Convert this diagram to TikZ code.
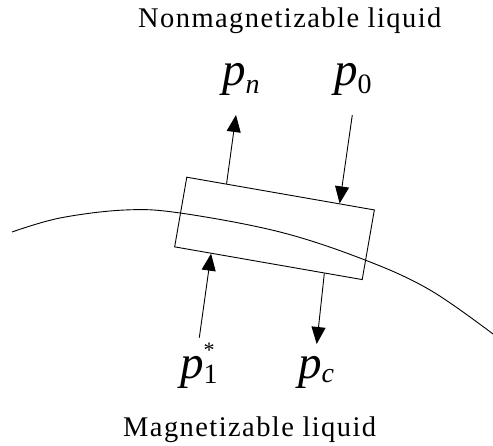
\documentclass[tikz,border=0pt]{standalone}
\usepackage{fontspec}
\setmainfont{Liberation Serif}
\newfontfamily\spacedfont[LetterSpace=5]{Liberation Serif}
\usetikzlibrary{arrows.meta,calc}
\newcommand\mysub[2]{\raisebox{-#1}{\fontsize{28}{28}\selectfont #2}}
\begin{document}
\begin{tikzpicture}[x=1pt,y=-1pt,
  liq/.style={inner sep=0pt, anchor=base west, font=\spacedfont\fontsize{28.5}{28.5}\selectfont},
  lbl/.style={inner sep=0pt, anchor=base west, font=\fontsize{47}{47}\selectfont\itshape},
  arr/.style={-{Triangle[length=17pt,width=14pt]}, line width=0.9pt, draw=black},
  boxst/.style={draw=black, line width=0.9pt, minimum width=190.4pt, minimum height=70.7pt, inner sep=0pt, rotate=-9.9},
  curvest/.style={line width=0.9pt}]
\useasboundingbox (0,0) rectangle (493,446);
% texts
\node[liq] (top) at (138,28) {Nonmagnetizable liquid};
\node[liq] (bot) at (123,436) {Magnetizable liquid};
% box
\node[boxst] (box) at (274.5,228.4) {};
% interface curve
\draw[curvest] plot[smooth, tension=0.6] coordinates {(12,232) (60,218) (125,210) (180,213) (280,232) (365,260) (430,290) (493,334)};
% labels
\node[lbl] (pn) at (222,86) {p\mysub{8pt}{n}};
\node[lbl] (p0) at (334,86) {p\mysub{8pt}{\upshape 0}};
\node[lbl] (p1) at (180,379) {p\rlap{\raisebox{21pt}{\fontsize{22}{22}\selectfont\upshape *}}\mysub{5pt}{\upshape 1}};
\node[lbl] (pc) at (298,379) {p\mysub{4pt}{c}};
% arrow ends
\coordinate (pnE) at (236,115);
\coordinate (p0S) at (352.3,115);
\coordinate (p1S) at (199.3,337.7);
\coordinate (pcE) at (316.7,344);
\draw[arr] ($(box.north west)!0.213!(box.north east)$) -- (pnE);
\draw[arr] (p0S) -- ($(box.north west)!0.813!(box.north east)$);
\draw[arr] (p1S) -- ($(box.south west)!0.196!(box.south east)$);
\draw[arr] ($(box.south west)!0.797!(box.south east)$) -- (pcE);
\end{tikzpicture}
\end{document}
